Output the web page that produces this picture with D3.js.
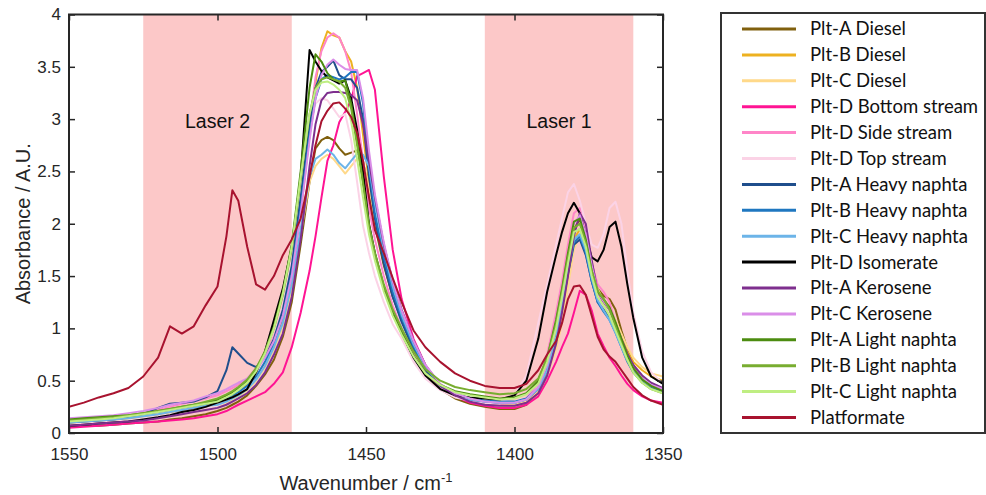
<!DOCTYPE html>
<html>
<head>
<meta charset="utf-8">
<script src="https://cdn.jsdelivr.net/npm/d3@7"></script>
<style>
  body { margin: 0; background: #fff; }
  svg { display: block; font-family: "Liberation Sans", Arial, sans-serif; }
  .axis text { fill: #262626; font-size: 17px; }
  .axis line { stroke: #262626; stroke-width: 1.5px; }
  .legend text { font-family: Lato, "Open Sans", sans-serif; font-size: 18.5px; fill: #111; }
</style>
</head>
<body>
<svg id="chart" width="986" height="495"></svg>
<script>
// wavenumber grid (cm-1) shared by every spectrum
var wavenumber = [1550,1545,1540,1535,1530,1525,1520,1516,1512,1508,1504,1500,
    1497,1495,1493,1490,1487,1484,1481,1478,1475,1472,1469,1467,1465,1463,
    1461,1459,1457,1455,1453,1451,1449,1447,
    1444,1441,1438,1434,1430,1425,1420,1415,1410,1405,1400,
    1396,1392,1389,1386,1384,1382,1380,1378,1376,1374,1372,1370,1368,1366,1364,1362,1360,1357,1354,1350];

var pltADiesel = [.06,.07,.07,.08,.09,.10,.11,.13,.14,.16,.18,.21,
    .24,.27,.30,.36,.45,.56,.70,.92,1.25,1.80,2.40,2.72,2.80,2.83,
    2.80,2.72,2.66,2.68,2.70,2.60,2.30,1.98,
    1.60,1.30,1.08,0.80,0.58,0.42,0.33,0.28,0.25,0.23,0.23,
    0.27,0.40,0.62,0.95,1.25,1.65,1.95,2.04,1.88,1.62,1.38,1.31,1.28,1.18,0.98,0.80,0.65,0.52,0.45,0.40];
var pltBDiesel = [.09,.10,.11,.12,.14,.15,.17,.19,.21,.24,.27,.30,
    .33,.36,.40,.46,.55,.68,.85,1.10,1.50,2.10,2.85,3.35,3.68,3.84,
    3.80,3.78,3.65,3.55,3.30,2.85,2.40,2.05,
    1.68,1.38,1.12,0.85,0.62,0.45,0.36,0.31,0.28,0.26,0.26,
    0.29,0.38,0.55,0.85,1.15,1.50,1.85,1.95,1.82,1.55,1.35,1.25,1.18,1.05,0.90,0.78,0.68,0.60,0.54,0.50];
var pltCDiesel = [.08,.09,.10,.11,.12,.14,.16,.18,.20,.22,.24,.26,
    .29,.32,.35,.41,.50,.63,.80,1.02,1.38,1.90,2.40,2.55,2.62,2.66,
    2.62,2.55,2.48,2.55,2.62,2.58,2.35,2.05,
    1.68,1.38,1.12,0.85,0.62,0.45,0.36,0.31,0.28,0.26,0.27,
    0.31,0.40,0.55,0.80,1.05,1.40,1.75,1.90,1.80,1.58,1.38,1.26,1.18,1.08,0.95,0.82,0.72,0.63,0.57,0.54];
var pltDBottom = [.05,.06,.07,.08,.09,.10,.11,.12,.13,.14,.16,.18,
    .21,.24,.27,.31,.35,.39,.47,.58,.82,1.15,1.55,1.88,2.25,2.60,
    2.75,2.97,3.07,3.18,3.41,3.44,3.47,3.28,
    2.45,1.75,1.28,0.90,0.65,0.45,0.35,0.29,0.26,0.24,0.24,
    0.27,0.35,0.50,0.68,0.82,0.95,1.15,1.36,1.32,1.17,0.95,0.83,0.72,0.64,0.55,0.47,0.41,0.35,0.31,0.29];
var pltDSide = [.10,.12,.13,.15,.17,.19,.22,.25,.28,.30,.33,.36,
    .40,.43,.46,.52,.62,.75,.92,1.15,1.55,2.20,2.95,3.40,3.65,3.78,
    3.82,3.78,3.65,3.45,3.05,2.60,2.15,1.85,
    1.50,1.22,1.00,0.76,0.58,0.44,0.36,0.32,0.29,0.28,0.29,
    0.33,0.48,0.75,1.15,1.45,1.80,2.10,2.15,1.92,1.62,1.42,1.35,1.25,1.05,0.85,0.70,0.60,0.50,0.45,0.41];
var pltDTop = [.08,.09,.10,.11,.12,.14,.16,.18,.20,.22,.24,.26,
    .30,.33,.37,.44,.55,.70,.90,1.20,1.65,2.25,2.85,3.15,3.20,3.18,
    3.10,3.02,3.05,2.80,2.40,1.98,1.72,1.50,
    1.25,1.04,0.90,0.68,0.52,0.41,0.34,0.31,0.29,0.28,0.36,
    0.55,1.05,1.42,1.80,2.05,2.30,2.38,2.22,2.00,1.80,1.77,1.90,2.15,2.21,2.00,1.55,1.15,0.78,0.58,0.47];
var pltAHeavy = [.10,.11,.12,.13,.15,.18,.24,.28,.29,.30,.34,.40,
    .60,.82,.76,.67,.63,.72,.90,1.18,1.60,2.25,2.95,3.30,3.45,3.50,
    3.56,3.42,3.38,3.38,3.30,3.00,2.45,2.05,
    1.62,1.30,1.06,0.80,0.60,0.45,0.37,0.32,0.30,0.29,0.29,
    0.32,0.42,0.60,0.90,1.20,1.52,1.80,1.85,1.70,1.45,1.25,1.18,1.10,0.98,0.85,0.70,0.60,0.50,0.44,0.40];
var pltBHeavy = [.12,.13,.14,.15,.16,.18,.20,.22,.24,.26,.28,.30,
    .33,.36,.39,.45,.54,.68,.86,1.12,1.52,2.15,2.85,3.20,3.38,3.42,
    3.40,3.38,3.40,3.45,3.45,3.15,2.55,2.10,
    1.68,1.35,1.10,0.83,0.62,0.46,0.38,0.33,0.31,0.30,0.30,
    0.33,0.43,0.62,0.95,1.25,1.55,1.82,1.88,1.72,1.45,1.25,1.16,1.08,0.96,0.82,0.68,0.58,0.49,0.44,0.40];
var pltCHeavy = [.10,.11,.12,.13,.14,.16,.18,.20,.22,.24,.26,.27,
    .30,.33,.36,.42,.51,.64,.82,1.05,1.42,1.95,2.45,2.62,2.66,2.71,
    2.66,2.58,2.53,2.60,2.67,2.66,2.55,2.20,
    1.75,1.40,1.13,0.85,0.63,0.46,0.37,0.32,0.30,0.29,0.29,
    0.32,0.42,0.60,0.92,1.22,1.55,1.85,1.90,1.75,1.48,1.27,1.17,1.08,0.96,0.82,0.69,0.59,0.50,0.45,0.41];
var pltDIsomerate = [.07,.08,.09,.10,.11,.13,.15,.17,.20,.22,.25,.29,
    .32,.34,.37,.42,.58,.78,1.08,1.38,1.78,2.45,3.66,3.55,3.46,3.40,
    3.37,3.34,3.37,3.20,2.90,2.50,2.00,1.72,
    1.40,1.15,0.95,0.72,0.55,0.42,0.36,0.34,0.33,0.32,0.36,
    0.50,0.90,1.35,1.70,1.92,2.10,2.20,2.10,1.88,1.68,1.64,1.75,1.97,2.02,1.78,1.42,1.10,0.72,0.54,0.47];
var pltAKerosene = [.07,.08,.09,.10,.11,.12,.14,.16,.18,.20,.22,.24,
    .27,.30,.33,.38,.46,.58,.75,.95,1.30,1.85,2.55,2.95,3.18,3.25,
    3.26,3.26,3.25,3.23,3.18,2.95,2.60,2.25,
    1.80,1.45,1.18,0.88,0.65,0.46,0.36,0.30,0.27,0.26,0.26,
    0.29,0.38,0.55,0.85,1.15,1.50,1.88,2.10,2.00,1.65,1.35,1.25,1.18,1.05,0.90,0.76,0.65,0.55,0.48,0.43];
var pltCKerosene = [.14,.15,.16,.17,.19,.21,.24,.27,.29,.31,.35,.38,
    .42,.45,.48,.52,.60,.72,.88,1.12,1.50,2.10,2.80,3.20,3.42,3.52,
    3.57,3.52,3.48,3.47,3.47,3.20,2.70,2.28,
    1.82,1.45,1.17,0.88,0.65,0.47,0.38,0.33,0.30,0.29,0.29,
    0.32,0.44,0.65,1.00,1.30,1.65,2.00,2.08,1.90,1.60,1.35,1.26,1.18,1.05,0.88,0.73,0.62,0.52,0.46,0.42];
var pltALight = [.13,.14,.15,.16,.17,.19,.21,.23,.25,.27,.29,.32,
    .36,.39,.43,.50,.61,.78,1.02,1.35,1.80,2.50,3.30,3.62,3.55,3.44,
    3.38,3.36,3.37,3.15,2.80,2.40,1.98,1.70,
    1.38,1.14,0.96,0.74,0.57,0.46,0.40,0.37,0.35,0.33,0.34,
    0.38,0.50,0.72,1.08,1.38,1.72,2.02,2.05,1.85,1.55,1.35,1.28,1.20,1.06,0.90,0.74,0.62,0.51,0.45,0.40];
var pltBLight = [.12,.13,.14,.15,.17,.19,.21,.23,.25,.27,.30,.33,
    .37,.40,.44,.51,.62,.78,1.00,1.32,1.76,2.42,3.05,3.30,3.38,3.40,
    3.38,3.36,3.30,3.10,2.75,2.38,1.98,1.72,
    1.42,1.18,1.00,0.78,0.61,0.50,0.44,0.41,0.39,0.37,0.38,
    0.42,0.52,0.72,1.05,1.35,1.68,1.96,2.00,1.82,1.55,1.36,1.28,1.18,1.02,0.86,0.70,0.58,0.48,0.42,0.38];
var pltCLight = [.11,.12,.13,.14,.16,.18,.20,.22,.24,.26,.28,.30,
    .34,.37,.41,.48,.59,.76,1.00,1.33,1.78,2.45,3.05,3.28,3.35,3.36,
    3.33,3.28,3.20,2.98,2.62,2.25,1.90,1.65,
    1.35,1.12,0.94,0.73,0.57,0.46,0.39,0.36,0.34,0.32,0.33,
    0.37,0.47,0.68,1.00,1.30,1.62,1.92,1.95,1.78,1.50,1.30,1.22,1.12,0.98,0.84,0.70,0.58,0.48,0.42,0.38];
var platformate = [.25,.29,.34,.38,.43,.54,.72,1.02,.95,1.02,1.22,1.40,
    1.88,2.32,2.22,1.78,1.42,1.37,1.50,1.70,1.85,2.05,2.45,2.75,2.98,3.08,
    3.15,3.16,3.10,3.02,2.87,2.60,2.25,1.94,
    1.72,1.48,1.25,0.98,0.82,0.68,0.57,0.50,0.45,0.43,0.43,
    0.47,0.60,0.75,0.88,1.05,1.28,1.40,1.41,1.32,1.12,0.92,0.80,0.73,0.68,0.60,0.52,0.44,0.36,0.31,0.27];

var seriesNames = ["Plt-A Diesel", "Plt-B Diesel", "Plt-C Diesel", "Plt-D Bottom stream",
    "Plt-D Side stream", "Plt-D Top stream", "Plt-A Heavy naphta", "Plt-B Heavy naphta",
    "Plt-C Heavy naphta", "Plt-D Isomerate", "Plt-A Kerosene", "Plt-C Kerosene",
    "Plt-A Light naphta", "Plt-B Light naphta", "Plt-C Light naphta", "Platformate"];
var seriesValues = [pltADiesel, pltBDiesel, pltCDiesel, pltDBottom, pltDSide, pltDTop,
    pltAHeavy, pltBHeavy, pltCHeavy, pltDIsomerate, pltAKerosene, pltCKerosene,
    pltALight, pltBLight, pltCLight, platformate];
var seriesColors = ["#80600e", "#edb120", "#ffd98a", "#ff1493", "#ff85c8", "#fbd3e6",
    "#1f4e8c", "#1f77c0", "#6cb4e8", "#000000", "#7e2f8e", "#da8ee8",
    "#4c8c10", "#78ad30", "#bfee82", "#a8132f"];

var laserBands = [{label: "Laser 2", from: 1525, to: 1475}, {label: "Laser 1", from: 1410, to: 1360}];
var xTicks = [1550, 1500, 1450, 1400, 1350];
var yTicks = [0, 0.5, 1, 1.5, 2, 2.5, 3, 3.5, 4];

var svg = d3.select("#chart");
var plotLeft = 69, plotRight = 663, plotTop = 14.5, plotBottom = 433;

var x = d3.scaleLinear().domain([1550, 1350]).range([plotLeft, plotRight]);
var y = d3.scaleLinear().domain([0, 4]).range([plotBottom, plotTop]);

svg.append("defs").append("clipPath").attr("id", "plotclip")
    .append("rect").attr("x", plotLeft).attr("y", plotTop)
    .attr("width", plotRight - plotLeft).attr("height", plotBottom - plotTop);

// laser windows
svg.append("g").selectAll("rect")
    .data(laserBands)
    .enter().append("rect")
    .attr("x", function(d) { return x(d.from); })
    .attr("width", function(d) { return x(d.to) - x(d.from); })
    .attr("y", plotTop)
    .attr("height", plotBottom - plotTop)
    .attr("fill", "#fcc8c8");

svg.append("g").selectAll("text")
    .data(laserBands)
    .enter().append("text")
    .attr("x", function(d) { return (x(d.from) + x(d.to)) / 2; })
    .attr("y", 128)
    .attr("text-anchor", "middle")
    .style("font-size", "19.5px")
    .style("fill", "#111")
    .text(function(d) { return d.label; });

var line = d3.line()
    .x(function(d, i) { return x(wavenumber[i]); })
    .y(function(d) { return y(d); });

svg.append("g")
    .attr("clip-path", "url(#plotclip)")
    .selectAll("path")
    .data(seriesValues)
    .enter().append("path")
    .attr("d", line)
    .attr("fill", "none")
    .attr("stroke", function(d, i) { return seriesColors[i]; })
    .attr("stroke-width", 2)
    .attr("stroke-linejoin", "round");

// axes with inward ticks on all four sides
svg.append("g").attr("class", "axis")
    .attr("transform", "translate(0," + plotBottom + ")")
    .call(d3.axisBottom(x).tickValues(xTicks).tickFormat(d3.format("d"))
        .tickSizeInner(-6).tickSizeOuter(0).tickPadding(15));
svg.append("g").attr("class", "axis")
    .attr("transform", "translate(0," + plotTop + ")")
    .call(d3.axisTop(x).tickValues(xTicks).tickFormat("").tickSizeInner(-6).tickSizeOuter(0));
svg.append("g").attr("class", "axis")
    .attr("transform", "translate(" + plotLeft + ",0)")
    .call(d3.axisLeft(y).tickValues(yTicks).tickFormat(function(d) { return d; })
        .tickSizeInner(-6).tickSizeOuter(0).tickPadding(8));
svg.append("g").attr("class", "axis")
    .attr("transform", "translate(" + plotRight + ",0)")
    .call(d3.axisRight(y).tickValues(yTicks).tickFormat("").tickSizeInner(-6).tickSizeOuter(0));
svg.selectAll(".axis .domain").remove();

svg.append("rect")
    .attr("x", plotLeft).attr("y", plotTop)
    .attr("width", plotRight - plotLeft).attr("height", plotBottom - plotTop)
    .attr("fill", "none").attr("stroke", "#262626").attr("stroke-width", 2);

var xLabel = svg.append("text")
    .attr("x", (plotLeft + plotRight) / 2)
    .attr("y", 490)
    .attr("text-anchor", "middle")
    .style("font-size", "20px")
    .style("fill", "#262626")
    .text("Wavenumber / cm");
xLabel.append("tspan").attr("dy", -8).style("font-size", "13px").text("-1");

svg.append("text")
    .attr("transform", "translate(30," + (plotTop + plotBottom) / 2 + ") rotate(-90)")
    .attr("text-anchor", "middle")
    .style("font-size", "20px")
    .style("fill", "#262626")
    .text("Absorbance / A.U.");

// legend
var legend = svg.append("g").attr("class", "legend");
legend.append("rect")
    .attr("x", 721).attr("y", 13)
    .attr("width", 264).attr("height", 420)
    .attr("fill", "#fff").attr("stroke", "#333").attr("stroke-width", 2);

var item = legend.selectAll("g.item")
    .data(seriesNames)
    .enter().append("g")
    .attr("class", "item")
    .attr("transform", function(d, i) { return "translate(0," + (29 + i * 25.9) + ")"; });
item.append("line")
    .attr("x1", 742).attr("x2", 796)
    .attr("stroke", function(d, i) { return seriesColors[i]; })
    .attr("stroke-width", 3);
item.append("text")
    .attr("x", 810)
    .attr("dy", "0.35em")
    .text(function(d) { return d; });
</script>
</body>
</html>
